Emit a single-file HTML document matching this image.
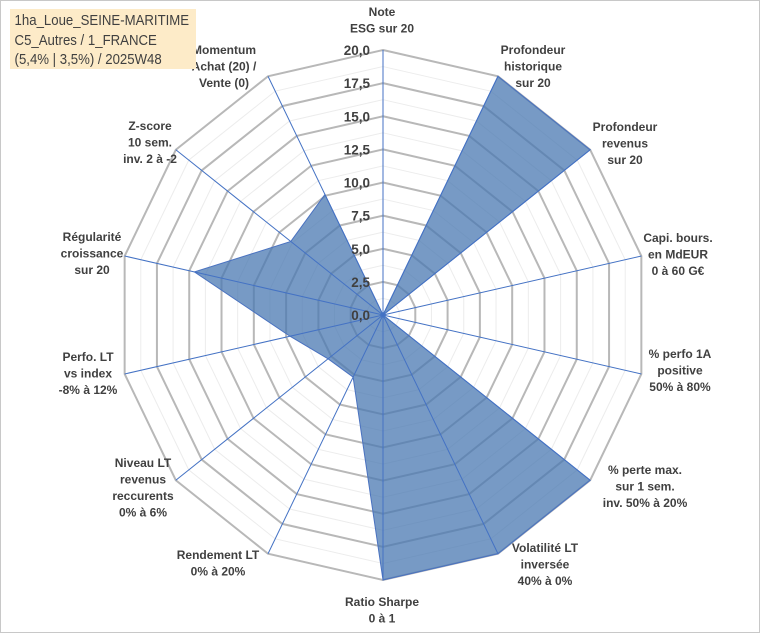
<!DOCTYPE html>
<html><head><meta charset="utf-8"><style>
body{margin:0;background:#fff;}
#wrap{position:relative;width:760px;height:633px;overflow:hidden;font-family:"Liberation Sans",sans-serif;}
#frame{position:absolute;left:0;top:0;width:758px;height:631px;border:1px solid #c8c8c8;}
#title{position:absolute;left:10px;top:9px;width:186px;height:60px;background:#fdebc8;color:#404040;font-size:14.5px;line-height:19.5px;box-sizing:border-box;padding-top:3px;white-space:nowrap;}
#title span{display:block;transform:scaleX(0.91);transform-origin:0 0;padding-left:5px;}
svg text{font-family:"Liberation Sans",sans-serif;font-weight:bold;fill:#404040;}
</style></head><body>
<div id="wrap">
<div id="frame"></div>
<svg id="chart" width="760" height="633" style="position:absolute;left:0;top:0"></svg>
<div id="title"><span>1ha_Loue_SEINE-MARITIME<br>C5_Autres / 1_FRANCE<br>(5,4% | 3,5%) / 2025W48</span></div>
</div>
<script>
const categories = [
 ["Note","ESG sur 20"],
 ["Profondeur","historique","sur 20"],
 ["Profondeur","revenus","sur 20"],
 ["Capi. bours.","en MdEUR","0 à 60 G€"],
 ["% perfo 1A","positive","50% à 80%"],
 ["% perte max.","sur 1 sem.","inv. 50% à 20%"],
 ["Volatilité LT","inversée","40% à 0%"],
 ["Ratio Sharpe","0 à 1"],
 ["Rendement LT","0% à 20%"],
 ["Niveau LT","revenus","reccurents","0% à 6%"],
 ["Perfo. LT","vs index","-8% à 12%"],
 ["Régularité","croissance","sur 20"],
 ["Z-score","10 sem.","inv. 2 à -2"],
 ["Momentum","Achat (20) /","Vente (0)"]
];
const values = [0, 20, 20, 0, 0, 20, 20, 20, 5.2, 5.3, 7.2, 14.6, 8.9, 10.1];
const tickLabels = ["0,0","2,5","5,0","7,5","10,0","12,5","15,0","17,5","20,0"];
const tickValues = [0,2.5,5,7.5,10,12.5,15,17.5,20];
const labelCenters = [[382,12],[533,50],[625,127],[678,238],[680,354],[645,470],[545,548],[382,602],[218,555],[143,463],[88,357],[92,237],[150,126],[224,50]];

const NS="http://www.w3.org/2000/svg";
const svg=document.getElementById('chart');
const CX=383, CY=315, R=265, MAX=20, N=categories.length;
function ang(i){return i*2*Math.PI/N;}
function pt(i,v){const r=v/MAX*R;return [CX+r*Math.sin(ang(i)), CY-r*Math.cos(ang(i))];}
function mk(tag,attrs){const e=document.createElementNS(NS,tag);for(const k in attrs)e.setAttribute(k,attrs[k]);svg.appendChild(e);return e;}
for(let v=1.25; v<=MAX; v+=2.5){
  const p=mk('polygon',{points:categories.map((c,i)=>pt(i,v).join(',')).join(' '),fill:'none',stroke:'#ececec','stroke-width':1});
  
  
}
tickValues.forEach(v=>{
  if(v===0)return;
  const p=mk('polygon',{points:categories.map((c,i)=>pt(i,v).join(',')).join(' '),fill:'none',stroke:'#b8b8b8','stroke-width':2});
  
  
});
const poly=mk('polygon',{points:values.map((v,i)=>pt(i,v).join(',')).join(' '),fill:'rgba(74,120,178,0.75)',stroke:'#4a72c0','stroke-width':1});


categories.forEach((c,i)=>{
  const e=pt(i,MAX);
  const l=mk('line',{x1:CX,y1:CY,x2:e[0],y2:e[1],stroke:'#4472c4','stroke-width':1});
  
  
});
tickValues.forEach((v,k)=>{
  const p=pt(0,v);
  const t=mk('text',{x:p[0]-13,y:p[1]+5,'text-anchor':'end','font-size':'13.5px',fill:'#595959'});
  t.textContent=tickLabels[k];
  
  
});
categories.forEach((lines,i)=>{
  const c=labelCenters[i];
  const t=mk('text',{x:c[0],y:c[1]+4,'text-anchor':'middle','font-size':'12px'});
  
  
  lines.forEach((s,j)=>{
    const ts=document.createElementNS(NS,'tspan');
    ts.setAttribute('x',c[0]);
    ts.setAttribute('dy',j===0?0:16.5);
    ts.textContent=s;
    t.appendChild(ts);
  });
});
</script>
</body></html>
